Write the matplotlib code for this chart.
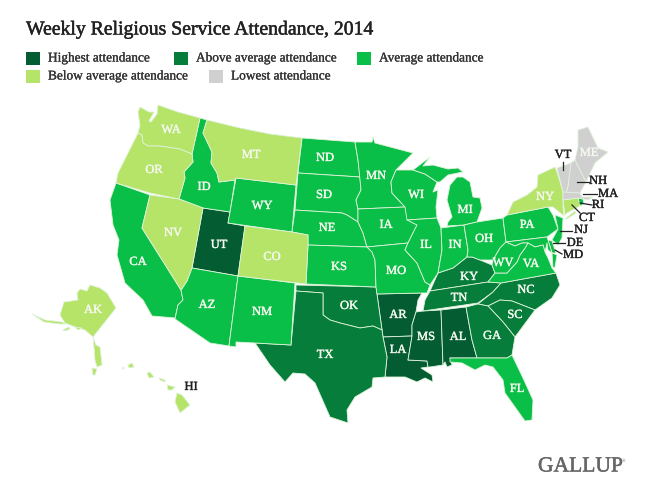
import matplotlib
matplotlib.use("Agg")
import matplotlib.pyplot as plt
import matplotlib.patheffects as pe

TITLE = "Weekly Religious Service Attendance, 2014"
LEGEND_LABELS = ["Highest attendance", "Above average attendance", "Average attendance",
                 "Below average attendance", "Lowest attendance"]
COLORS = ["#045c33", "#067d3a", "#0abf47", "#b6e468", "#d0d0d0"]

HIGHEST = ["UT", "AR", "LA", "MS", "AL"]
ABOVE = ["OK", "TX", "KY", "TN", "NC", "SC", "GA"]
AVERAGE = ["CA", "ID", "WY", "AZ", "NM", "ND", "SD", "NE", "KS", "MN", "IA", "MO", "WI", "IL", "IN",
           "MI", "MI2", "OH", "PA", "NJ", "DE", "MD", "MD2", "VA", "WV", "FL", "RI"]
BELOW = ["WA", "OR", "MT", "NV", "CO", "AK", "AK2", "AK3", "AK4", "AK5", "AK6",
         "HI", "HI2", "HI3", "HI4", "HI5", "HI6", "NY", "NY2", "CT"]
LOWEST = ["VT", "NH", "MA", "ME"]

OUTLINES = {
"WA": [(140,107),(149,112),(154,112),(149,121),(151,122),(157,114),(158,105),(178,112),(200,118),(192,154),(180,149),(160,146),(148,146),(143,143),(142,135),(138,133),(140,125),(138,112)],
"OR": [(138,133),(142,135),(143,143),(148,146),(160,146),(180,149),(192,154),(193,162),(184,172),(185,178),(179,199),(150,193),(116,183),(118,173),(127,155)],
"ID": [(200,118),(207,120),(203,133),(212,152),(211,163),(217,173),(219,182),(235,180),(230,212),(203,208),(179,199),(185,178),(184,172),(193,162),(192,154)],
"MT": [(207,120),(240,128),(270,134),(302,138),(296,185),(236,178),(235,180),(219,182),(217,173),(211,163),(212,152),(203,133)],
"WY": [(236,178),(296,185),(292,232),(228,223),(230,212)],
"ND": [(302,138),(355,142),(358,160),(360,177),(298,173)],
"SD": [(298,173),(360,177),(361,190),(356,200),(358,209),(358,222),(347,215),(342,213),(295,210)],
"NE": [(295,210),(342,213),(347,215),(358,222),(363,233),(367,247),(308,245),(308,235),(292,232)],
"KS": [(308,245),(367,247),(372,252),(375,260),(376,287),(306,284)],
"CO": [(245,226),(292,232),(308,235),(308,245),(306,284),(238,276)],
"UT": [(203,208),(230,212),(228,223),(245,226),(238,276),(192,268)],
"NV": [(150,195),(179,199),(203,208),(192,268),(187,281),(181,290),(142,228)],
"CA": [(116,183),(150,195),(142,228),(181,290),(183,300),(178,305),(175,318),(152,316),(143,300),(125,283),(117,255),(119,240),(113,225),(110,200)],
"AZ": [(192,268),(238,276),(229,346),(210,343),(175,319),(178,305),(183,300),(181,290),(187,281)],
"NM": [(238,276),(295,283),(291,345),(255,343),(236,342),(236,347),(229,346)],
"OK": [(296,285),(376,287),(377,294),(382,330),(373,326),(360,328),(340,323),(330,320),(323,315),(323,293),(296,291)],
"TX": [(296,291),(323,293),(323,315),(330,320),(340,323),(360,328),(373,326),(382,330),(383,337),(387,357),(385,377),(373,378),(372,387),(355,397),(347,410),(348,423),(330,417),(315,383),(305,374),(293,373),(285,382),(270,365),(255,343),(291,345)],
"MN": [(355,142),(372,142),(373,137),(375,143),(413,153),(403,163),(396,170),(391,182),(392,193),(405,207),(358,209),(356,200),(361,190),(358,160)],
"IA": [(358,209),(405,207),(408,220),(417,225),(408,243),(367,247),(363,233),(358,222)],
"MO": [(367,247),(408,243),(405,250),(417,263),(425,282),(430,285),(427,293),(422,293),(377,294),(376,287),(375,260),(372,252)],
"AR": [(377,294),(422,293),(418,300),(416,312),(412,325),(412,336),(383,337),(382,330)],
"LA": [(383,337),(412,336),(408,360),(427,361),(428,367),(421,368),(432,375),(433,382),(425,378),(417,382),(405,377),(385,377),(387,357)],
"WI": [(396,170),(413,170),(425,174),(437,182),(433,192),(438,190),(436,207),(437,218),(407,220),(405,207),(392,193),(391,182)],
"IL": [(407,220),(437,218),(441,228),(442,250),(438,273),(430,285),(425,282),(417,263),(405,250),(408,243),(417,225)],
"IN": [(441,228),(464,225),(468,250),(467,257),(453,268),(438,273),(442,250)],
"MI": [(457,177),(463,177),(470,182),(473,197),(480,198),(482,208),(477,222),(464,225),(447,226),(448,222),(452,217),(447,200),(450,185)],
"MI2": [(413,170),(430,157),(423,166),(433,165),(448,169),(458,168),(463,172),(458,173),(448,175),(440,182),(437,182),(425,174)],
"OH": [(464,225),(477,222),(490,220),(503,218),(506,242),(500,248),(493,260),(480,260),(472,257),(467,257),(468,250)],
"KY": [(430,291),(438,273),(453,268),(467,257),(472,257),(480,260),(492,265),(495,273),(488,282)],
"TN": [(430,291),(488,282),(501,283),(493,292),(478,303),(423,311),(425,300)],
"MS": [(423,311),(441,310),(443,365),(430,367),(428,367),(427,361),(408,360),(412,336),(412,325),(416,312)],
"AL": [(441,310),(466,307),(472,340),(477,358),(450,358),(452,365),(447,367),(445,362),(443,365)],
"GA": [(466,307),(478,304),(488,306),(503,322),(515,337),(512,355),(507,358),(477,358),(472,340)],
"FL": [(450,358),(477,358),(507,358),(512,355),(523,378),(533,400),(532,420),(525,421),(515,407),(505,393),(503,380),(493,367),(485,365),(475,370),(462,363),(450,362)],
"SC": [(488,306),(500,300),(512,301),(535,310),(518,333),(515,337),(503,322)],
"NC": [(501,283),(556,273),(560,285),(552,298),(535,310),(512,301),(500,300),(488,306),(478,304),(493,292)],
"VA": [(488,282),(495,273),(507,273),(517,262),(520,255),(525,248),(528,243),(535,247),(543,245),(545,252),(548,258),(552,268),(556,273),(501,283)],
"WV": [(506,242),(515,246),(522,243),(528,243),(525,248),(520,255),(517,262),(507,273),(495,273),(492,265),(493,260),(500,248)],
"PA": [(503,218),(507,215),(548,207),(553,215),(558,229),(547,237),(506,242)],
"NY": [(507,215),(513,202),(527,195),(537,187),(538,175),(555,167),(557,172),(563,192),(563,207),(564,216),(553,207),(548,207)],
"NY2": [(565,219),(575,211),(576,213),(567,219)],
"NJ": [(555,215),(563,218),(562,238),(558,245),(552,240),(558,229)],
"DE": [(548,240),(552,241),(556,253),(552,253)],
"MD": [(506,242),(547,237),(548,240),(552,253),(548,250),(547,243),(545,252),(543,245),(535,247),(528,243),(522,243),(515,246)],
"MD2": [(552,253),(557,255),(555,267),(553,268)],
"VT": [(557,168),(571,163),(568,187),(566,193),(563,192)],
"NH": [(571,163),(575,160),(586,182),(580,193),(566,193),(568,187)],
"ME": [(578,130),(588,127),(598,148),(608,152),(595,163),(586,182),(575,160),(578,147)],
"MA": [(563,192),(580,193),(582,197),(593,197),(588,200),(578,198),(563,200)],
"CT": [(563,200),(578,198),(580,206),(567,213),(565,215)],
"RI": [(578,198),(583,199),(584,204),(580,206)],
"AK": [(90,285),(100,288),(107,293),(116,308),(93,337),(85,330),(75,327),(65,323),(60,315),(64,302),(78,300),(77,293),(80,289),(87,291)],
"AK2": [(93,337),(96,345),(100,347),(102,365),(97,367),(95,360),(94,347)],
"AK3": [(32,314),(45,320),(62,322),(66,324),(60,324),(44,322)],
"AK4": [(63,330),(69,327),(70,329),(65,331)],
"AK5": [(75,327),(82,328),(78,330)],
"AK6": [(92,368),(97,369),(95,375),(93,375)],
"HI": [(177,393),(182,395),(190,405),(180,413),(175,402)],
"HI2": [(167,385),(175,387),(172,390),(168,390)],
"HI3": [(147,373),(150,372),(154,377),(149,378)],
"HI4": [(128,365),(132,363),(134,367),(129,368)],
"HI5": [(159,378),(165,380),(165,382),(160,380)],
"HI6": [(122,368),(124,367),(124,369)],
}

INNER_LABELS = {"WA":(171,130),"OR":(154,170),"MT":(251,155),"ID":(204,187),"WY":(262,206),"NV":(173,233),
"UT":(219,245),"CO":(272,257),"CA":(138,262),"AZ":(207,305),"NM":(262,312),"ND":(325,158),"SD":(324,195),
"NE":(327,228),"KS":(339,267),"MN":(376,176),"IA":(386,225),"WI":(416,195),"IL":(426,245),"IN":(455,245),
"MI":(465,210),"OH":(484,239),"PA":(527,225),"MO":(396,271),"OK":(349,306),"TX":(325,355),"AR":(398,315),
"LA":(398,350),"MS":(426,337),"AL":(458,337),"TN":(459,298),"KY":(469,277),"GA":(492,336),"SC":(515,315),
"NC":(526,290),"FL":(517,389),"VA":(531,264),"WV":(503,263),"NY":(545,197),"ME":(589,153),"AK":(93,310)}
OUTER_LABELS = {"VT":(563,155),"NH":(598,181),"MA":(608,194),"RI":(598,205),"CT":(587,218),"NJ":(581,230),
"DE":(575,243),"MD":(573,255),"HI":(191,387)}
LEADERS = [((563,162),(563,170)),((577,182),(589,182)),((583,194),(597,194)),((580,203),(592,205)),
((572,205),(580,213)),((560,230.5),(572,230.5)),((553,243),(565,243)),((555,250),(562,254))]

SERIF = "Liberation Serif"
fig = plt.figure(figsize=(6.6, 5.01), dpi=100)
ax = fig.add_axes([0, 0, 1, 1])
ax.set_xlim(0, 660)
ax.set_ylim(501, 0)
ax.axis("off")


def heavy(color, width=0.25):
    return [pe.withStroke(linewidth=width, foreground=color)]


for names, color in zip([HIGHEST, ABOVE, AVERAGE, BELOW, LOWEST], COLORS):
    for name in names:
        xs, ys = zip(*OUTLINES[name])
        ax.fill(xs, ys, facecolor=color, edgecolor="#dff3da", linewidth=0.6, joinstyle="round")

for name, (x, y) in INNER_LABELS.items():
    ax.text(x, y, name, color="#f4f8ee", fontsize=9, family=SERIF, ha="center", va="center",
            path_effects=heavy("#f4f8ee"))
for name, (x, y) in OUTER_LABELS.items():
    ax.text(x, y, name, color="#222222", fontsize=9, family=SERIF, ha="center", va="center",
            path_effects=heavy("#222222"))
for (x0, y0), (x1, y1) in LEADERS:
    ax.plot([x0, x1], [y0, y1], color="#222222", lw=0.9)

ax.text(26, 30, TITLE, fontsize=14.2, family=SERIF, color="#222222", va="center", ha="left",
        path_effects=heavy("#222222", 0.35))

SWATCH_X = [26, 174, 357, 26, 209]
SWATCH_Y = [52, 52, 52, 70, 70]
for label, color, x, y in zip(LEGEND_LABELS, COLORS, SWATCH_X, SWATCH_Y):
    ax.add_patch(plt.Rectangle((x, y), 14, 13, facecolor=color, edgecolor="none"))
    ax.text(x + 22, y + 6.5, label, fontsize=9.6, family=SERIF, color="#333333", va="center", ha="left",
            path_effects=heavy("#333333", 0.2))

ax.text(538, 467, "GALLUP", fontsize=15.5, family=SERIF, color="#666666", va="center", ha="left",
        path_effects=heavy("#666666", 0.35))
ax.text(622, 461, "®", fontsize=3.5, family=SERIF, color="#666666", va="center", ha="left")
fig.savefig("out.png", dpi=100, facecolor="white")
